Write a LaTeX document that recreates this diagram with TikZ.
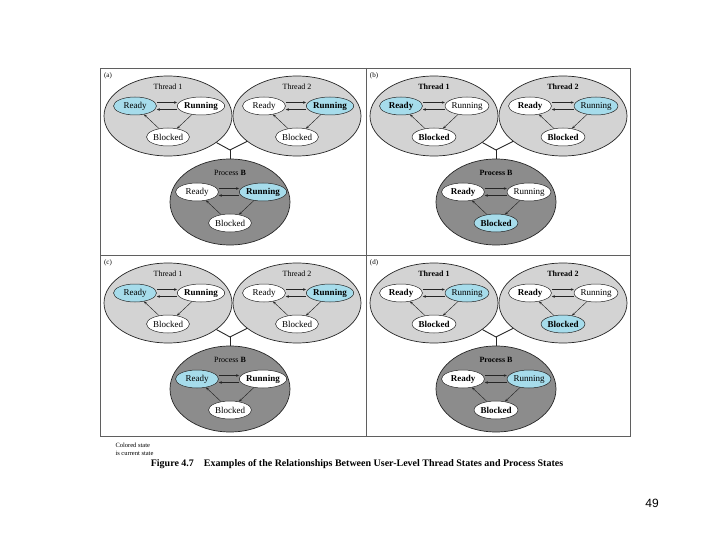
\documentclass[tikz,border=0pt]{standalone}
\usepackage{fontspec}
\setmainfont{Liberation Serif}
\newfontfamily\pagenofont{Liberation Sans}
\usetikzlibrary{shapes.geometric, arrows.meta}

\definecolor{curblue}{RGB}{166,220,235}
\definecolor{threadgray}{RGB}{211,211,211}
\definecolor{procgray}{RGB}{140,140,140}
\definecolor{framegray}{RGB}{95,95,95}

\newcommand\statefont{\fontsize{9}{10}\selectfont}
\newcommand\titlefont{\fontsize{8}{9}\selectfont}

\tikzset{
  graphbg/.style={ellipse, draw=black!85, line width=0.7pt, inner sep=0pt},
  threadbg/.style={graphbg, fill=threadgray, minimum width=128pt, minimum height=80pt},
  procbg/.style={graphbg, fill=procgray, minimum width=120pt, minimum height=86pt},
  statenode/.style={ellipse, draw=black!85, line width=0.5pt, fill=white, inner sep=0pt,
    minimum width=43pt, minimum height=18pt, font=\statefont},
  current state/.style={fill=curblue},
  ready st/.style={}, running st/.style={}, blocked st/.style={},
  ready txt/.style={}, running txt/.style={}, blocked txt/.style={},
  boldtxt/.style={font=\statefont\bfseries},
  graph title/.style={font=\titlefont},
  panel label/.style={font=\fontsize{7}{8}\selectfont},
  trans arrow/.style={-{Stealth[length=3pt,width=2.5pt]}, line width=0.45pt, black!85},
  tie line/.style={line width=0.9pt, black!85},
  panel frame/.style={line width=0.9pt, framegray},
}

% one state graph: name, centre, background, title, current state
\newcommand\stategraph[5]{%
  \begin{scope}[shift={#2}, #5/.style={current state}]
    \node[#3] (#1) at (0,0) {};
    \node[graph title] (#1-title) at (0,-29) {#4};
    \node[statenode, ready st, ready txt] (#1-rd) at (-33,-10) {Ready};
    \node[statenode, running st, running txt] (#1-rn) at (33,-10) {Running};
    \node[statenode, blocked st, blocked txt] (#1-bl) at (0,21) {Blocked};
  \end{scope}
  \draw[trans arrow] ([yshift=3.5pt]#1-rd.east) -- ([yshift=3.5pt]#1-rn.west);
  \draw[trans arrow] ([yshift=-3.5pt]#1-rn.west) -- ([yshift=-3.5pt]#1-rd.east);
  \draw[trans arrow] (#1-bl) -- (#1-rd);
  \draw[trans arrow] (#1-rn) -- (#1-bl);
}

% one panel: x, y, letter, thread 1, thread 2, process, fonts, process title
\newcommand\statepanel[8]{%
  \begin{scope}[shift={(#1,#2)}, #7]
    \node[panel label] (#3-lbl) at (8,8) {(#3)};
    \stategraph{#3-t1}{(68,48)}{threadbg}{Thread 1}{#4}
    \stategraph{#3-t2}{(197,48)}{threadbg}{Thread 2}{#5}
    \stategraph{#3-pb}{(130,134)}{procbg}{#8}{#6}
    \coordinate (#3-j) at (130,82);
    \draw[tie line] (#3-t1) -- (#3-j) -- (#3-t2);
    \draw[tie line] (#3-j) -- (#3-pb);
  \end{scope}
}

\begin{document}
\begin{tikzpicture}[x=1pt, y=-1pt]
\useasboundingbox (0,0) rectangle (720,540);

% frame of the four panels
\draw[panel frame] (100,68) rectangle (630,436);
\draw[panel frame] (366,68) -- (366,436);
\draw[panel frame] (100,255) -- (630,255);

\statepanel{100}{68}{a}{ready st}{running st}{running st}
  {running txt/.style={boldtxt}}{Process \textbf{B}}
\statepanel{366}{68}{b}{ready st}{running st}{blocked st}
  {graph title/.style={font=\titlefont\bfseries}, ready txt/.style={boldtxt}, blocked txt/.style={boldtxt}}{Process B}
\statepanel{100}{255}{c}{ready st}{running st}{ready st}
  {running txt/.style={boldtxt}}{Process \textbf{B}}
\statepanel{366}{255}{d}{running st}{blocked st}{running st}
  {graph title/.style={font=\titlefont\bfseries}, ready txt/.style={boldtxt}, blocked txt/.style={boldtxt}}{Process B}

% legend and caption
\node[anchor=west, align=left, font=\fontsize{6.5}{8}\selectfont] (legend) at (112,449)
  {Colored state\\is current state};
\node[font=\fontsize{10}{12}\selectfont\bfseries] (caption) at (357,464)
  {Figure 4.7\quad Examples of the Relationships Between User-Level Thread States and Process States};
\node[font=\pagenofont\fontsize{12}{14}\selectfont] (pageno) at (652,503) {49};
\end{tikzpicture}
\end{document}
